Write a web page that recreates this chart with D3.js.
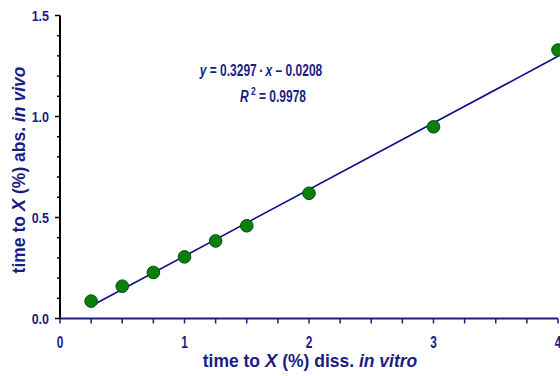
<!DOCTYPE html>
<html>
<head>
<meta charset="utf-8">
<script src="https://cdn.jsdelivr.net/npm/d3@7"></script>
<style>
  body { margin:0; background:#fff; }
  text { font-family:"Liberation Sans", Arial, sans-serif; font-weight:bold; fill:#1c1c84; }
</style>
</head>
<body>
<svg id="chart" width="560" height="376"></svg>
<script>
// measured points
var xVals=[0.25,0.5,0.75,1.0,1.25,1.5,2,3,4];
var yVals=[0.086,0.16,0.228,0.305,0.384,0.459,0.62,0.949,1.329];
var fitSlope=0.3297, fitIntercept=-0.0208;
var xTickLabels=[0,1,2,3,4];
var yTickLabels=[0.0,0.5,1.0,1.5];

var navy="#1c1c84";
var svg=d3.select("#chart");

var x=d3.scaleLinear().domain([0,4]).range([60,558]);
var y=d3.scaleLinear().domain([0,1.5]).range([318.5,15.5]);

// y axis: black line, minor ticks every 0.1
var yAx=svg.append("g").attr("transform","translate(60,0)");
yAx.append("line").attr("x1",0).attr("x2",0).attr("y1",y(1.5)).attr("y2",y(0)).attr("stroke","#000").attr("stroke-width",2);
yAx.selectAll("line.tk").data(d3.range(0,16).map(function(d){return d/10;}))
  .enter().append("line").attr("class","tk")
  .attr("x1",function(d){return Math.round(d*10)%5==0?-5:-3;})
  .attr("x2",0)
  .attr("y1",function(d){return y(d);}).attr("y2",function(d){return y(d);})
  .attr("stroke","#000").attr("stroke-width",1.5);
yAx.selectAll("text").data(yTickLabels).enter().append("text")
  .attr("transform",function(d){return "translate(-11,"+(y(d)+5.5)+") scale(1,1.1)";})
  .attr("text-anchor","end").style("font-size","12.5px")
  .text(function(d){return d.toFixed(1);});

// x axis: navy line, ticks every 0.25
var xAx=svg.append("g").attr("transform","translate(0,318.5)");
xAx.append("line").attr("x1",x(0)).attr("x2",x(4)).attr("y1",0).attr("y2",0).attr("stroke",navy).attr("stroke-width",2);
xAx.selectAll("line.tk").data(d3.range(0,17).map(function(d){return d/4;}))
  .enter().append("line").attr("class","tk")
  .attr("x1",function(d){return x(d);}).attr("x2",function(d){return x(d);})
  .attr("y1",0).attr("y2",5)
  .attr("stroke",navy).attr("stroke-width",1.5);
xAx.selectAll("text").data(xTickLabels).enter().append("text")
  .attr("transform",function(d){return "translate("+x(d)+",29.5) scale(0.95,1.25)";})
  .attr("text-anchor","middle").style("font-size","12.5px")
  .text(function(d){return d;});

// fit line
svg.append("line")
  .attr("x1",x(0.25)).attr("y1",y(fitSlope*0.25+fitIntercept))
  .attr("x2",x(4)).attr("y2",y(fitSlope*4+fitIntercept))
  .attr("stroke","#0d0d8c").attr("stroke-width",1.6);

// points
svg.selectAll("circle").data(xVals).enter().append("circle")
  .attr("cx",function(d){return x(d);})
  .attr("cy",function(d,i){return y(yVals[i]);})
  .attr("r",6.3)
  .attr("fill","#0a800a").attr("stroke","#0b4a0b").attr("stroke-width",1);

// equation
var eq=svg.append("text").attr("transform","translate(261,76) scale(1,1.3)").attr("text-anchor","middle").style("font-size","12px");
eq.append("tspan").style("font-style","italic").text("y");
eq.append("tspan").text(" = 0.3297\u2009\u00b7\u2009");
eq.append("tspan").style("font-style","italic").text("x");
eq.append("tspan").text(" \u2013 0.0208");
var r2=svg.append("text").attr("transform","translate(273,101.5) scale(1,1.3)").attr("text-anchor","middle").style("font-size","12px");
r2.append("tspan").style("font-style","italic").text("R");
r2.append("tspan").attr("dy",-5).style("font-size","8.5px").text(" 2");
r2.append("tspan").attr("dy",5).text(" = 0.9978");

// axis titles
var xt=svg.append("text").attr("x",310).attr("y",367).attr("text-anchor","middle").style("font-size","17.5px");
xt.append("tspan").text("time to ");
xt.append("tspan").style("font-style","italic").style("font-size","18.5px").text("X");
xt.append("tspan").text("  (%) diss. ");
xt.append("tspan").style("font-style","italic").text("in vitro");

var yt=svg.append("text").attr("transform","translate(25,170) rotate(-90)").attr("text-anchor","middle").style("font-size","17.5px");
yt.append("tspan").text("time to ");
yt.append("tspan").style("font-style","italic").style("font-size","18.5px").text("X");
yt.append("tspan").text("  (%) abs. ");
yt.append("tspan").style("font-style","italic").text("in vivo");
</script>
</body>
</html>
